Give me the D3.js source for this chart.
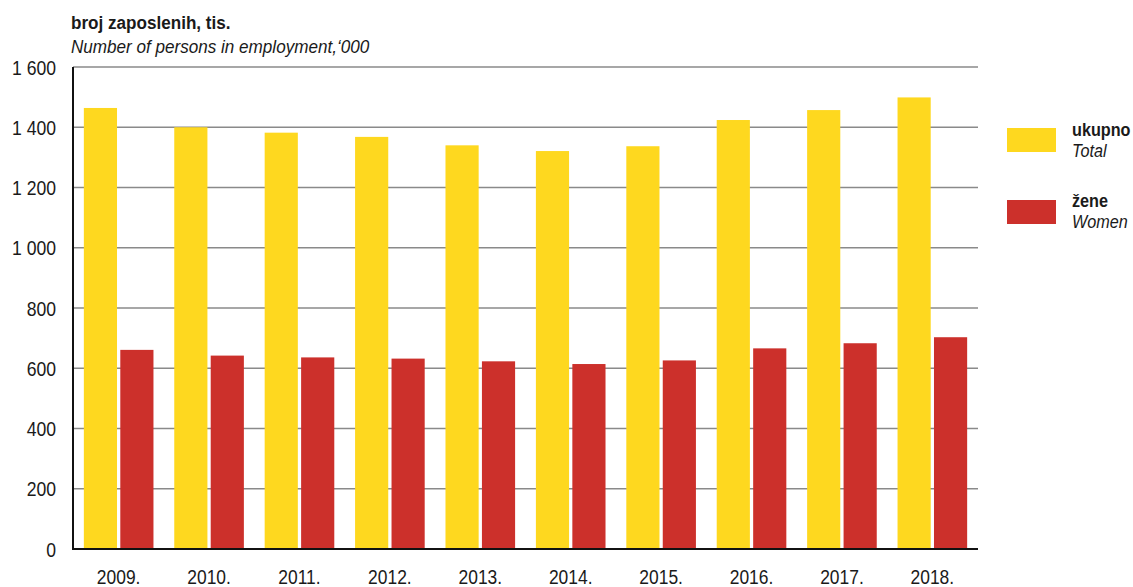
<!DOCTYPE html>
<html><head><meta charset="utf-8">
<script src="https://cdn.jsdelivr.net/npm/d3@7"></script>
<style>
body{margin:0;background:#fff;}
text{font-family:"Liberation Sans","Arial",sans-serif;fill:#1a1a1a;}
</style></head><body>
<svg id="c" width="1133" height="587"></svg>
<script>
const years = ["2009.","2010.","2011.","2012.","2013.","2014.","2015.","2016.","2017.","2018."];
const total = [1464,1400,1382,1368,1340,1321,1337,1424,1457,1499];
const women = [661,642,636,632,623,614,626,666,683,703];
const yTicks = [0,200,400,600,800,1000,1200,1400,1600];
const seriesNames = [["ukupno","Total"],["žene","Women"]];
const colors = ["#FED81F","#CC302B"];

const svg = d3.select("#c");
const m = {l:73, r:978, t:67, b:549};
const x = d3.scaleBand().domain(years).range([m.l, m.r]).paddingInner(0.23).paddingOuter(0.12);
const y = d3.scaleLinear().domain([0,1600]).range([m.b, m.t]);
const fmt = d => d3.format(",")(d).replace(/,/g," ");

function txt(parent, tx, ty, s, size, sx, opts={}) {
  const t = parent.append("text")
    .attr("transform", `translate(${tx},${ty}) scale(${sx},1)`)
    .attr("font-size", size).text(s);
  if (opts.anchor) t.attr("text-anchor", opts.anchor);
  if (opts.weight) t.attr("font-weight", opts.weight);
  if (opts.style) t.attr("font-style", opts.style);
  return t;
}

// gridlines
svg.append("g").selectAll("line").data(yTicks.filter(d=>d>0)).join("line")
  .attr("x1", m.l).attr("x2", m.r).attr("y1", d=>y(d)).attr("y2", d=>y(d))
  .attr("stroke","#8a8a8a").attr("stroke-width",1.3);

// y labels
const gy = svg.append("g");
yTicks.forEach(d => txt(gy, 56, y(d)+7.5, fmt(d), 20, 0.88, {anchor:"end"}));

const inner = d3.scaleBand().domain([0,1]).range([0, x.bandwidth()]).paddingInner(0.09);
const data = [total, women];
const g = svg.append("g");
years.forEach((yr,i)=>{
  [0,1].forEach(s=>{
    g.append("rect")
      .attr("x", x(yr)+inner(s)).attr("width", inner.bandwidth())
      .attr("y", y(data[s][i])).attr("height", y(0)-y(data[s][i]))
      .attr("fill", colors[s]);
  });
});

// axes
svg.append("line").attr("x1",m.l).attr("x2",m.l).attr("y1",m.t).attr("y2",m.b).attr("stroke","#111").attr("stroke-width",2);
svg.append("line").attr("x1",m.l-1).attr("x2",m.r).attr("y1",m.b).attr("y2",m.b).attr("stroke","#111").attr("stroke-width",2);

// x labels
const gx = svg.append("g");
years.forEach(d => txt(gx, x(d)+x.bandwidth()/2, 584, d, 21, 0.83, {anchor:"middle"}));

// titles
txt(svg, 71, 29, "broj zaposlenih, tis.", 19, 0.9, {weight:"bold"});
txt(svg, 71, 53, "Number of persons in employment,‘000", 19, 0.9, {style:"italic"});

// legend
const leg = [{y:128, b1:136, b2:157},{y:200, b1:207, b2:228}];
leg.forEach((l,i)=>{
  svg.append("rect").attr("x",1007).attr("y",l.y).attr("width",49).attr("height",24).attr("fill",colors[i]);
  txt(svg, 1072, l.b1, seriesNames[i][0], 18, 0.9, {weight:"bold"});
  txt(svg, 1072, l.b2, seriesNames[i][1], 18, 0.9, {style:"italic"});
});
</script>
</body></html>
